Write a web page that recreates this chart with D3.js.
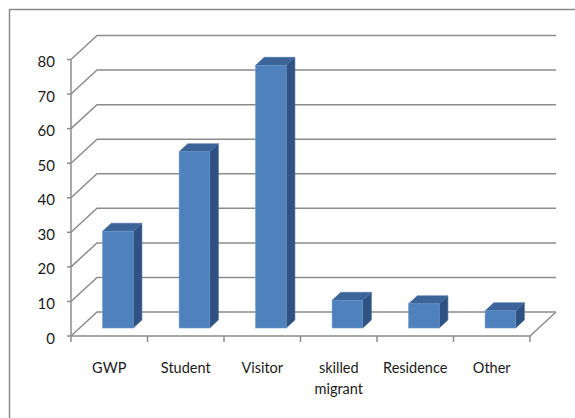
<!DOCTYPE html>
<html>
<head>
<meta charset="utf-8">
<script src="https://cdn.jsdelivr.net/npm/d3@7"></script>
<style>
  html, body { margin: 0; padding: 0; background: #fff; }
  svg { display: block; }
</style>
</head>
<body>
<div id="chart"></div>
<script>
// categories and values
const categories = ['GWP', 'Student', 'Visitor', 'skilled migrant', 'Residence', 'Other'];
const values = [28, 51, 76, 8, 7, 5];
const yTicks = [0, 10, 20, 30, 40, 50, 60, 70, 80];

const width = 575, height = 418;

const svg = d3.select('#chart')
  .append('svg')
  .attr('width', width)
  .attr('height', height);

// outer frame (cut off by the right and bottom edges like the reference)
svg.append('rect')
  .attr('x', 9.5).attr('y', 9.5)
  .attr('width', 600).attr('height', 450)
  .attr('fill', 'none')
  .attr('stroke', '#8a8a8a')
  .attr('stroke-width', 1.5);

// front plane scales
const x = d3.scaleBand().domain(categories).range([71, 530]).paddingInner(0).paddingOuter(0);
const y = d3.scaleLinear().domain([0, 80]).range([336, 59.5]);

// depth of the 3D box (front -> back)
const depth = { dx: 26, dy: -24 };
const gridColor = '#8c8c8c';

// back wall gridlines with diagonal side-wall segment
const grid = svg.append('g');
yTicks.forEach(t => {
  const yf = y(t);
  grid.append('path')
    .attr('d', `M${x.range()[0]},${yf} L${x.range()[0] + depth.dx},${yf + depth.dy} L${x.range()[1] + depth.dx},${yf + depth.dy}`)
    .attr('fill', 'none')
    .attr('stroke', gridColor)
    .attr('stroke-width', 1.5);
});

// floor: front edge and right diagonal
const x0 = x.range()[0], x1 = x.range()[1], yb = y(0);
svg.append('path')
  .attr('d', `M${x0},${yb} L${x1},${yb} L${x1 + depth.dx},${yb + depth.dy}`)
  .attr('fill', 'none')
  .attr('stroke', gridColor)
  .attr('stroke-width', 1.5);

// y axis
const yAxis = svg.append('g');
yAxis.append('line')
  .attr('x1', x0).attr('x2', x0)
  .attr('y1', y(80)).attr('y2', yb)
  .attr('stroke', gridColor).attr('stroke-width', 1.5);
yTicks.forEach(t => {
  yAxis.append('line')
    .attr('x1', x0 - 4).attr('x2', x0)
    .attr('y1', y(t)).attr('y2', y(t))
    .attr('stroke', gridColor).attr('stroke-width', 1.5);
  yAxis.append('text')
    .attr('x', 55)
    .attr('y', y(t) + 7.5)
    .attr('text-anchor', 'end')
    .style('font-family', 'Lato, sans-serif')
    .style('font-size', '15px')
    .style('fill', '#1a1a1a')
    .text(t);
});

// x axis ticks at band edges
const edges = categories.map(c => x(c)).concat([x1]);
edges.forEach(e => {
  svg.append('line')
    .attr('x1', e).attr('x2', e)
    .attr('y1', yb).attr('y2', yb + 6)
    .attr('stroke', gridColor).attr('stroke-width', 1.5);
});

// x labels
categories.forEach(c => {
  const words = c === 'skilled migrant' ? ['skilled', 'migrant'] : [c];
  const t = svg.append('text')
    .attr('x', x(c) + x.bandwidth() / 2)
    .attr('y', 373)
    .attr('text-anchor', 'middle')
    .style('font-family', 'Lato, sans-serif')
    .style('font-size', '14.5px')
    .style('fill', '#1a1a1a');
  words.forEach((w, i) => {
    t.append('tspan')
      .attr('x', x(c) + x.bandwidth() / 2)
      .attr('dy', i === 0 ? 0 : 21)
      .text(w);
  });
});

// bars: box sits in the middle third of the depth
const barW = x.bandwidth() * 0.4;
const f = { dx: depth.dx / 3, dy: depth.dy / 3 };
const bars = svg.append('g');
categories.forEach((c, i) => {
  const bx = x(c) + (x.bandwidth() - barW) / 2 + f.dx;
  const by0 = y(0) + f.dy;
  const by1 = y(values[i]) + f.dy;
  const g = bars.append('g');
  // side
  g.append('path')
    .attr('d', `M${bx + barW},${by1} L${bx + barW + f.dx},${by1 + f.dy} L${bx + barW + f.dx},${by0 + f.dy} L${bx + barW},${by0} Z`)
    .attr('fill', '#2f5282')
    .attr('stroke', '#3d6496').attr('stroke-width', 0.6);
  // top
  g.append('path')
    .attr('d', `M${bx},${by1} L${bx + f.dx},${by1 + f.dy} L${bx + barW + f.dx},${by1 + f.dy} L${bx + barW},${by1} Z`)
    .attr('fill', '#3b6499')
    .attr('stroke', '#4a74aa').attr('stroke-width', 0.6);
  // front
  g.append('rect')
    .attr('x', bx).attr('y', by1)
    .attr('width', barW).attr('height', by0 - by1)
    .attr('fill', '#4f81bd')
    .attr('stroke', '#6b96cc').attr('stroke-width', 0.6);
});
</script>
</body>
</html>
